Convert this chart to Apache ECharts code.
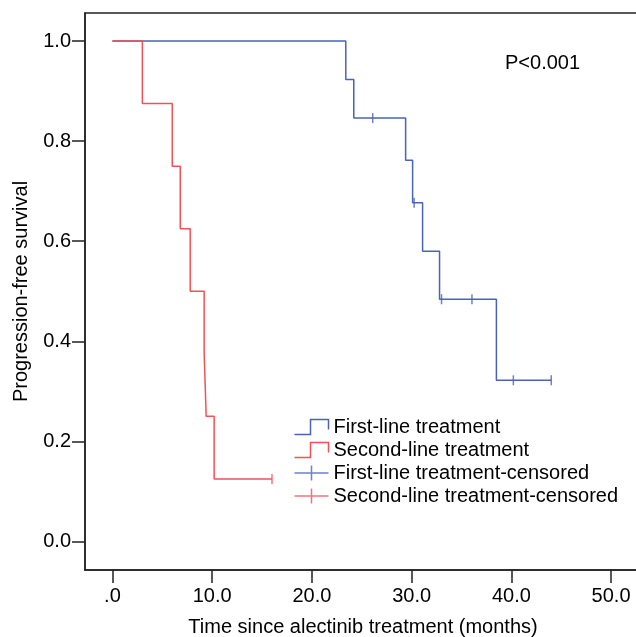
<!DOCTYPE html>
<html>
<head>
<meta charset="utf-8">
<script src="https://cdn.jsdelivr.net/npm/echarts@6/dist/echarts.min.js"></script>
<style>
html,body{margin:0;padding:0;background:#fff;}
#chart{width:636px;height:637px;}
</style>
</head>
<body>
<div id="chart"></div>
<script>
/*data*/
var firstTimes=[0,23.4,24.2,29.4,30.1,31.1,32.8,38.5,44.0];
var firstSurv=[1,0.923,0.846,0.762,0.677,0.580,0.484,0.322,0.322];
var firstCensorTimes=[26.1,30.25,33.0,36.05,40.2,44.0];
var firstCensorSurv=[0.846,0.677,0.484,0.484,0.322,0.322];

var secondTimes=[0,3.0,6.0,6.8,7.8,9.2,9.4,10.2,16.0];
var secondSurv=[1,0.875,0.75,0.625,0.5,0.375,0.25,0.125,0.125];
var secondCensorTimes=[16.0];
var secondCensorSurv=[0.125];

var xTicks=[0,10,20,30,40,50];
var yTicks=[0,0.2,0.4,0.6,0.8,1.0];
/*data end*/

var blue='#4a63b8';
var red='#f0525a';
var font='Liberation Sans, Arial, sans-serif';

function pairs(xs,ys){
	var out=[];
	for (var i = 0; i < xs.length; i++) {
		out.push([xs[i],ys[i]]);
	}
	return out;
}

var stepIcon='path://M0,14 L16,14 L16,2 L34,2 L34,10';
var crossIcon='path://M0,7.5 L34,7.5 M17,0 L17,15';

var myChart=echarts.init(document.getElementById('chart'),null,{renderer:'canvas'});
var option={
	animation:false,
	textStyle:{fontFamily:font},
	title:{
		text:'P<0.001',
		left:500,
		top:48,
		textStyle:{fontSize:20,fontWeight:'normal',color:'#000',fontFamily:font}
	},
	grid:{
		left:85,
		top:13,
		right:-5,
		bottom:67,
		show:true,
		borderColor:'#222',
		borderWidth:1.5,
		outerBoundsMode:'none'
	},
	legend:{
		orient:'vertical',
		left:292,
		top:417,
		padding:0,
		itemWidth:34,
		itemHeight:15,
		itemGap:3,
		symbolKeepAspect:false,
		textStyle:{fontSize:20,color:'#000',fontFamily:font},
		data:[
			{name:'First-line treatment',icon:stepIcon,itemStyle:{color:'none',borderColor:blue,borderWidth:1.5}},
			{name:'Second-line treatment',icon:stepIcon,itemStyle:{color:'none',borderColor:red,borderWidth:1.5}},
			{name:'First-line treatment-censored',icon:crossIcon,itemStyle:{color:'none',borderColor:blue,borderWidth:1.5}},
			{name:'Second-line treatment-censored',icon:crossIcon,itemStyle:{color:'none',borderColor:red,borderWidth:1.5}}
		]
	},
	xAxis:{
		type:'value',
		min:-2.75,
		max:53,
		name:'Time since alectinib treatment (months)',
		nameLocation:'middle',
		nameGap:47,
		nameMoveOverlap:false,
		nameTextStyle:{fontSize:20,color:'#000',fontFamily:font},
		axisLine:{onZero:false,lineStyle:{color:'#222',width:1.5}},
		axisTick:{show:true,length:13,customValues:xTicks,lineStyle:{color:'#222',width:1.5}},
		axisLabel:{
			customValues:xTicks,
			margin:16,
			fontSize:20,
			color:'#000',
			fontFamily:font,
			formatter:function(v){
				return v===0 ? '.0' : v.toFixed(1);
			}
		},
		splitLine:{show:false}
	},
	yAxis:{
		type:'value',
		min:-0.057,
		max:1.056,
		name:'Progression-free survival',
		nameLocation:'middle',
		nameGap:54,
		nameMoveOverlap:false,
		nameTextStyle:{fontSize:20,color:'#000',fontFamily:font},
		axisLine:{show:true,onZero:false,lineStyle:{color:'#222',width:1.5}},
		axisTick:{show:true,length:13,customValues:yTicks,lineStyle:{color:'#222',width:1.5}},
		axisLabel:{
			customValues:yTicks,
			margin:14,
			fontSize:20,
			color:'#000',
			fontFamily:font,
			formatter:function(v){
				return v.toFixed(1);
			}
		},
		splitLine:{show:false}
	},
	series:[
		{
			name:'First-line treatment',
			type:'line',
			step:'end',
			symbol:'none',
			color:blue,
			lineStyle:{color:blue,width:1.5},
			data:pairs(firstTimes,firstSurv)
		},
		{
			name:'Second-line treatment',
			type:'line',
			step:'end',
			symbol:'none',
			color:red,
			lineStyle:{color:red,width:1.5},
			data:pairs(secondTimes,secondSurv)
		},
		{
			name:'First-line treatment-censored',
			type:'scatter',
			symbol:'rect',
			symbolSize:[1.5,10],
			color:blue,
			itemStyle:{color:blue},
			data:pairs(firstCensorTimes,firstCensorSurv)
		},
		{
			name:'Second-line treatment-censored',
			type:'scatter',
			symbol:'rect',
			symbolSize:[1.5,10],
			color:red,
			itemStyle:{color:red},
			data:pairs(secondCensorTimes,secondCensorSurv)
		}
	]
};
myChart.setOption(option);
</script>
</body>
</html>
